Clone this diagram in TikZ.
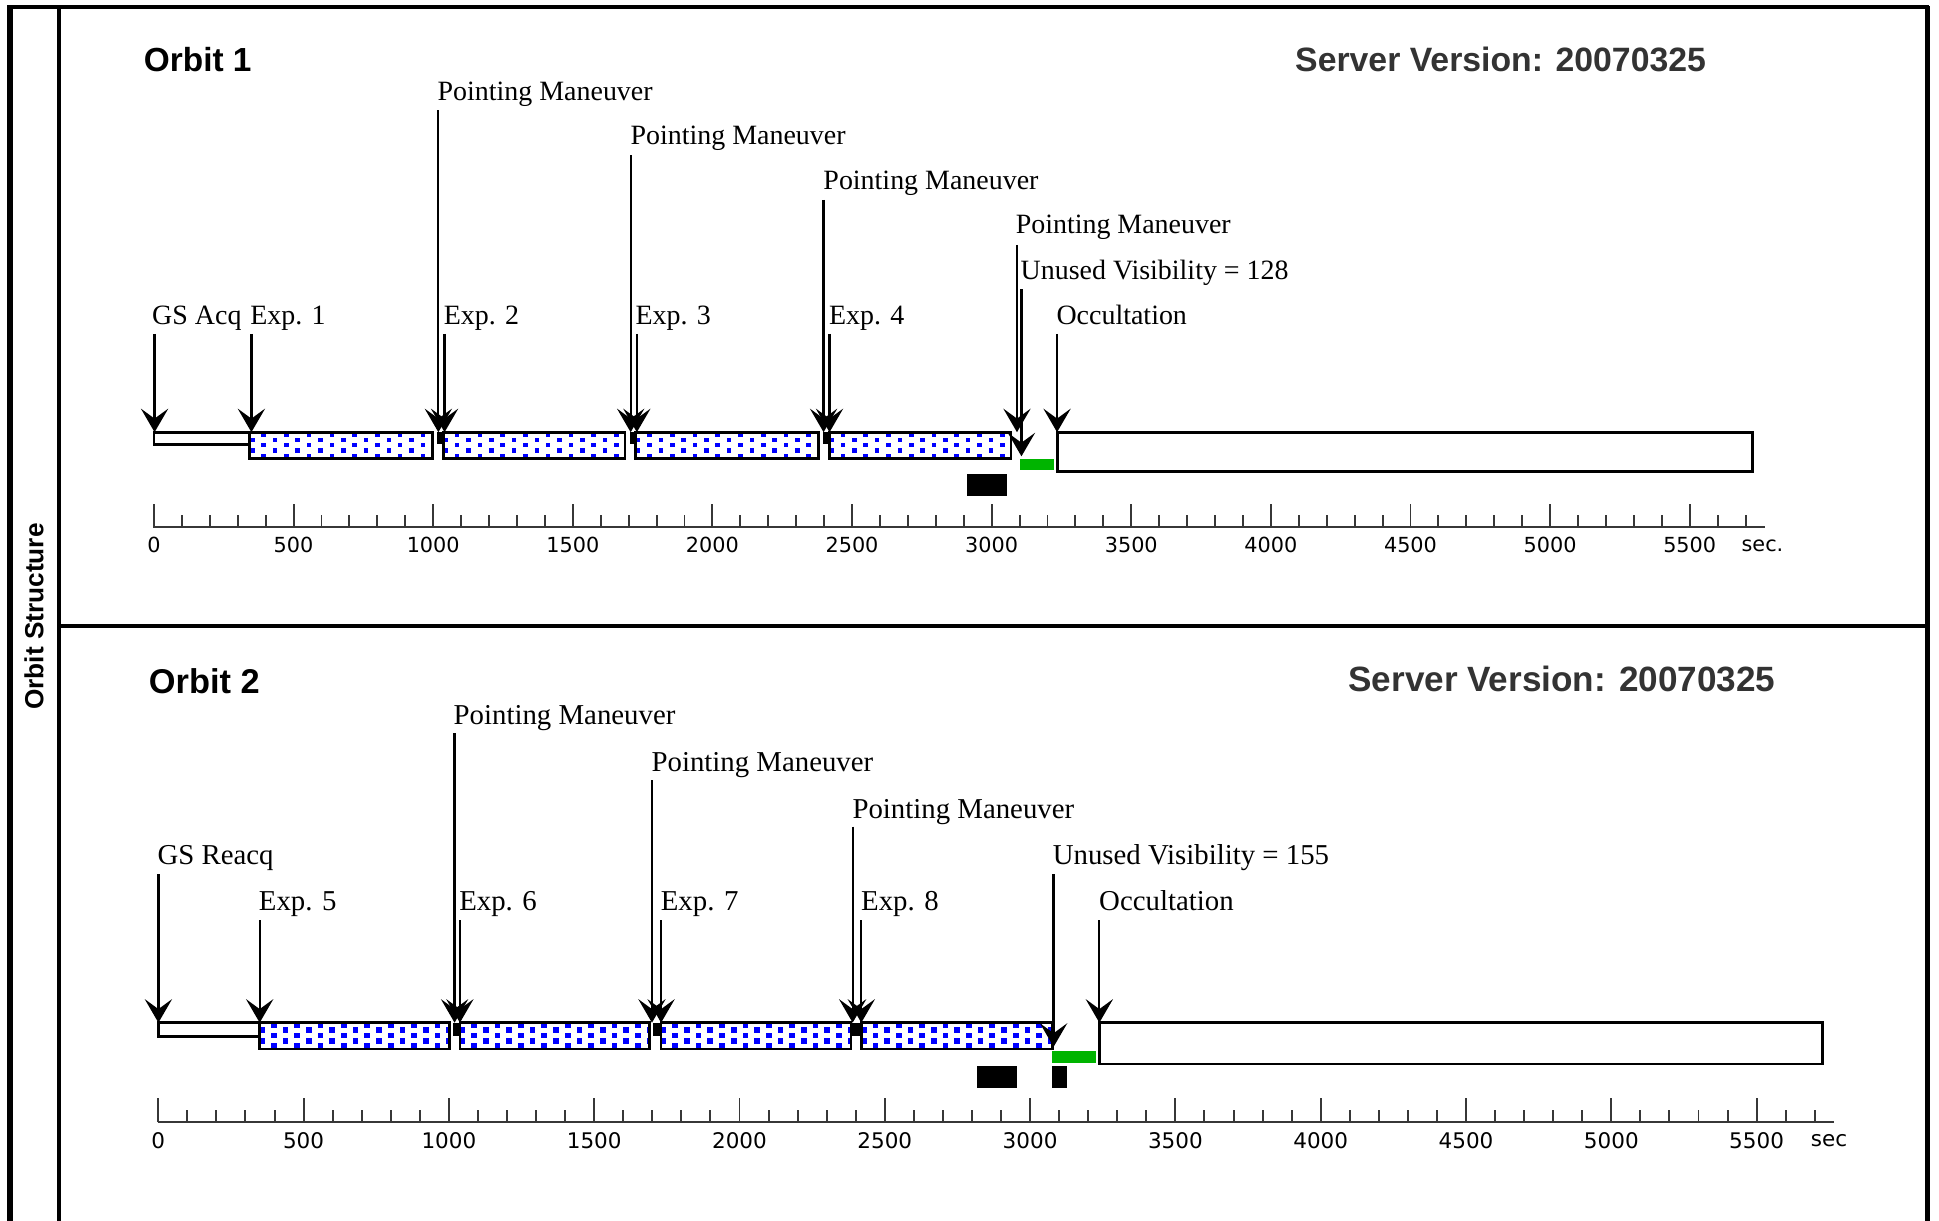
\documentclass[tikz,border=0pt]{standalone}
\usepackage{fontspec}
\setmainfont{Liberation Serif}
\newfontfamily\sansbf{Liberation Sans}
\newfontfamily\axisfont{DejaVu Sans}
\usetikzlibrary{arrows.meta}
\definecolor{dotblue}{RGB}{0,0,255}
\definecolor{visgreen}{RGB}{0,180,0}
\definecolor{srvgray}{RGB}{51,51,51}
\definecolor{axgray}{RGB}{55,55,55}
\tikzset{
  arr/.style={draw=black, line width=0.9pt, -{Stealth[length=9.5pt,width=11pt,inset=4pt,line width=1.1pt]}},
  lblA/.style={anchor=base west, inner sep=0pt, font=\fontsize{11.3}{13}\selectfont},
  lblB/.style={anchor=base west, inner sep=0pt, font=\fontsize{11.65}{13}\selectfont},
  titleA/.style={anchor=base west, inner sep=0pt, font=\sansbf\bfseries\fontsize{13.5}{16}\selectfont},
  titleB/.style={anchor=base west, inner sep=0pt, font=\sansbf\bfseries\fontsize{13.9}{16}\selectfont},
  serverA/.style={anchor=base west, inner sep=0pt, text=srvgray, font=\sansbf\bfseries\fontsize{13.66}{16}\selectfont},
  serverB/.style={anchor=base west, inner sep=0pt, text=srvgray, font=\sansbf\bfseries\fontsize{14.2}{16}\selectfont},
  ticklblA/.style={inner sep=0pt, font=\axisfont\fontsize{8.4}{10}\selectfont},
  ticklblB/.style={inner sep=0pt, font=\axisfont\fontsize{8.7}{10}\selectfont},
  tickline/.style={draw=axgray, line width=0.8pt},
  axisline/.style={draw=axgray, line width=0.8pt},
  barline/.style={draw=black, line width=1.1pt},
  whitebox/.style={draw=black, fill=white, line width=1.1pt},
  gapmark/.style={fill=black},
  sunbox/.style={fill=black},
  visbar/.style={fill=visgreen},
}
\newcommand\ExpBar[7]{%
  \begin{scope}
    \clip (#1,#3) rectangle (#2,#4);
    \fill[white] (#1,#3) rectangle (#2,#4);
    \foreach \k in {0,...,5}{%
      \pgfmathsetmacro\dbY{#3+1.9+#7*\k}%
      \pgfmathsetmacro\dbO{mod(\k+1,2)*#6/2}%
      \foreach \j in {-1,...,9}{%
        \pgfmathsetmacro\dbX{#1+2+\dbO+#6*\j}%
        \fill[dotblue] (\dbX-#5/2,\dbY-#5/2) rectangle ++(#5,#5);
      }%
    }%
  \end{scope}
  \draw[barline] (#1,#3) rectangle (#2,#4);
}
\begin{document}
\begin{tikzpicture}[x=0.5pt,y=-0.5pt]
\useasboundingbox (0,0) rectangle (1568,987);
\fill[white] (0,0) rectangle (1568,987);

% ---------- frame ----------
\draw[line width=2.35pt] (7.8,987) -- (7.8,5.8);
\draw[line width=1.8pt] (6,5.8) -- (1559.5,5.8);
\draw[line width=1.8pt] (1558.5,5) -- (1558.5,987);
\draw[line width=1.4pt] (47.7,5.8) -- (47.7,987);
\draw[line width=1.6pt] (47.7,506) -- (1558.5,506);
\node[rotate=90, inner sep=0pt, font=\sansbf\bfseries\fontsize{10.6}{12}\selectfont] (side) at (27.5,498.6) {Orbit Structure};

% ================= ORBIT 1 =================
\node[titleA] (o1title) at (116,58) {Orbit 1};
\node[serverA] (o1server) at (1047,57.7) {Server Version: 20070325};

% bars
\draw[whitebox] (124.5,349.5) rectangle (202,359.5);
\ExpBar{202}{350}{349.5}{370.5}{3.7}{18.4}{4.3}
\ExpBar{358.5}{505.5}{349.5}{370.5}{3.7}{18.4}{4.3}
\ExpBar{514}{661.7}{349.5}{370.5}{3.7}{18.4}{4.3}
\ExpBar{670.5}{817.6}{349.5}{370.5}{3.7}{18.4}{4.3}
\draw[whitebox] (855,349.5) rectangle (1417,381);
\fill[visbar] (825,371.5) rectangle (852.6,380);
\fill[sunbox] (782,383) rectangle (814.6,401);
\fill[gapmark] (353.5,349.5) rectangle (358.5,359);
\fill[gapmark] (509.3,349.5) rectangle (514,359);
\fill[gapmark] (665.3,349.5) rectangle (670.5,359);

% labels
\node[lblA] (o1gs)  at (122.7,262) {GS Acq};
\node[lblA] (o1e1)  at (202,262) {Exp. 1};
\node[lblA] (o1pm1) at (353.5,81) {Pointing Maneuver};
\node[lblA] (o1e2)  at (358.5,262) {Exp. 2};
\node[lblA] (o1pm2) at (509.5,117) {Pointing Maneuver};
\node[lblA] (o1e3)  at (513.5,262) {Exp. 3};
\node[lblA] (o1pm3) at (665.5,153) {Pointing Maneuver};
\node[lblA] (o1e4)  at (670,262) {Exp. 4};
\node[lblA] (o1pm4) at (821,189) {Pointing Maneuver};
\node[lblA] (o1uv)  at (825,226) {Unused Visibility = 128};
\node[lblA] (o1oc)  at (854,262) {Occultation};

% arrows
\coordinate (a1gs)  at (125,270);    \coordinate (b1gs)  at (125,349.5);
\coordinate (a1e1)  at (203.3,270);  \coordinate (b1e1)  at (203.3,349.5);
\coordinate (a1pm1) at (354.5,89);   \coordinate (b1pm1) at (354.5,349.5);
\coordinate (a1e2)  at (359.5,270);  \coordinate (b1e2)  at (359.5,349.5);
\coordinate (a1pm2) at (510,125.4);  \coordinate (b1pm2) at (510,349.5);
\coordinate (a1e3)  at (515,270);    \coordinate (b1e3)  at (515,349.5);
\coordinate (a1pm3) at (666,161.7);  \coordinate (b1pm3) at (666,349.5);
\coordinate (a1e4)  at (670.8,270);  \coordinate (b1e4)  at (670.8,349.5);
\coordinate (a1pm4) at (822.4,198);  \coordinate (b1pm4) at (822.4,349.5);
\coordinate (a1uv)  at (826,234);    \coordinate (b1uv)  at (826,369);
\coordinate (a1oc)  at (854.8,270);  \coordinate (b1oc)  at (854.8,349.5);
\foreach \n in {gs,e1,pm1,e2,pm2,e3,pm3,e4,pm4,uv,oc}
  \draw[arr] (a1\n) -- (b1\n);

% axis
\draw[axisline] (124,426.5) -- (1427,426.5);
\foreach \t in {0,100,...,5700}
  \draw[tickline] ({124.5+0.2258*\t},426.5) -- ++(0,-10);
\foreach \t in {0,500,...,5500}{
  \draw[tickline] ({124.5+0.2258*\t},426.5) -- ++(0,-19);
  \node[ticklblA] (o1l\t) at ({124.5+0.2258*\t},441) {\t};
}
\node[ticklblA, anchor=west] (o1sec) at (1408,441) {sec.};

% ================= ORBIT 2 =================
\node[titleB] (o2title) at (120,560.5) {Orbit 2};
\node[serverB] (o2server) at (1090,559.4) {Server Version: 20070325};

\draw[whitebox] (128,827) rectangle (209.5,838);
\ExpBar{210}{363.3}{827}{848.3}{4.6}{18.9}{4.25}
\ExpBar{372}{525.5}{827}{848.3}{4.6}{18.9}{4.25}
\ExpBar{534.6}{688.2}{827}{848.3}{4.6}{18.9}{4.25}
\ExpBar{696.5}{851}{827}{848.3}{4.6}{18.9}{4.25}
\draw[whitebox] (889,827) rectangle (1474,860.5);
\fill[visbar] (850.7,850) rectangle (886.3,859.3);
\fill[sunbox] (790,862) rectangle (822.5,880);
\fill[sunbox] (850.7,862) rectangle (862.8,880);
\fill[gapmark] (366,827) rectangle (372.5,838);
\fill[gapmark] (528,827) rectangle (535,838);
\fill[gapmark] (689,827) rectangle (696.5,838);

\node[lblB] (o2gs)  at (127,699) {GS Reacq};
\node[lblB] (o2e5)  at (209,736) {Exp. 5};
\node[lblB] (o2pm1) at (366.5,586) {Pointing Maneuver};
\node[lblB] (o2e6)  at (371,736) {Exp. 6};
\node[lblB] (o2pm2) at (526.5,624) {Pointing Maneuver};
\node[lblB] (o2e7)  at (534,736) {Exp. 7};
\node[lblB] (o2pm3) at (689,662) {Pointing Maneuver};
\node[lblB] (o2e8)  at (696,736) {Exp. 8};
\node[lblB] (o2uv)  at (851,699) {Unused Visibility = 155};
\node[lblB] (o2oc)  at (888.5,736) {Occultation};

\coordinate (a2gs)  at (128.1,706.8); \coordinate (b2gs)  at (128.1,827);
\coordinate (a2e5)  at (210,744);     \coordinate (b2e5)  at (210,827);
\coordinate (a2pm1) at (367.6,593);   \coordinate (b2pm1) at (367.6,827);
\coordinate (a2e6)  at (371.9,744);   \coordinate (b2e6)  at (371.9,827);
\coordinate (a2pm2) at (527.2,630.8); \coordinate (b2pm2) at (527.2,827);
\coordinate (a2e7)  at (534.6,744);   \coordinate (b2e7)  at (534.6,827);
\coordinate (a2pm3) at (689.5,668.5); \coordinate (b2pm3) at (689.5,827);
\coordinate (a2e8)  at (696.5,744);   \coordinate (b2e8)  at (696.5,827);
\coordinate (a2uv)  at (852,706.8);   \coordinate (b2uv)  at (852,846.5);
\coordinate (a2oc)  at (889,744);     \coordinate (b2oc)  at (889,827);
\foreach \n in {gs,e5,pm1,e6,pm2,e7,pm3,e8,uv,oc}
  \draw[arr] (a2\n) -- (b2\n);

\draw[axisline] (127.5,907.5) -- (1483,907.5);
\foreach \t in {0,100,...,5700}
  \draw[tickline] ({128+0.235*\t},907.5) -- ++(0,-10);
\foreach \t in {0,500,...,5500}{
  \draw[tickline] ({128+0.235*\t},907.5) -- ++(0,-19.5);
  \node[ticklblB] (o2l\t) at ({128+0.235*\t},922.5) {\t};
}
\node[ticklblB, anchor=west] (o2sec) at (1464,922.5) {sec};
\end{tikzpicture}
\end{document}
